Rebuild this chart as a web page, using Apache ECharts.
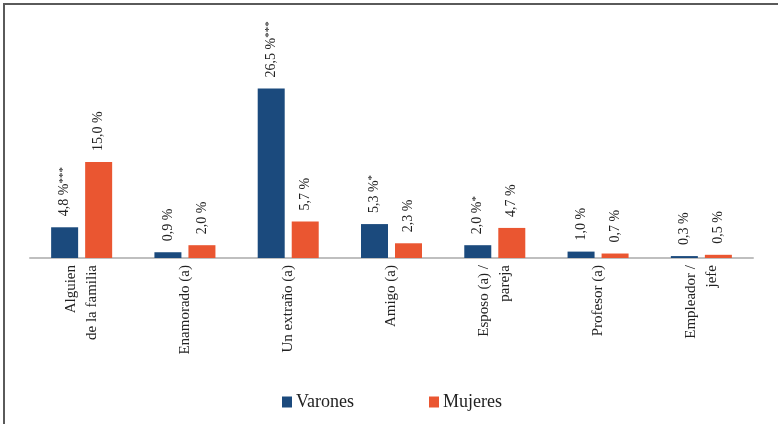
<!DOCTYPE html>
<html>
<head>
<meta charset="utf-8">
<script src="https://cdn.jsdelivr.net/npm/echarts@6/dist/echarts.min.js"></script>
<style>
html,body{margin:0;padding:0;background:#fff;font-family:'Liberation Serif',serif;}
#frame{position:absolute;left:3px;top:3px;width:775px;height:421px;border-top:2px solid #5a5a5a;border-left:2px solid #5a5a5a;box-sizing:border-box;}
#chart{position:absolute;left:0;top:0;width:778px;height:424px;}
</style>
</head>
<body>
<div id="frame"></div>
<div id="chart"></div>
<script>
var categories = ['Alguien\nde la familia', 'Enamorado (a)', 'Un extraño (a)', 'Amigo (a)', 'Esposo (a) /\npareja', 'Profesor (a)', 'Empleador /\njefe'];
var varones = [4.8, 0.9, 26.5, 5.3, 2.0, 1.0, 0.3];
var mujeres = [15.0, 2.0, 5.7, 2.3, 4.7, 0.7, 0.5];
var varonesSig = ['***', '', '***', '*', '*', '', ''];
var mujeresSig = ['', '', '', '', '', '', ''];

function fmt(v){ return v.toFixed(1).replace('.', ',') + ' %'; }

var font = 'Times New Roman, Liberation Serif, serif';

function labelFor(sig){
  return {
    show: true,
    position: 'top',
    rotate: 90,
    align: 'left',
    verticalAlign: 'middle',
    distance: 11,
    fontFamily: font,
    formatter: function(p){
      var s = sig[p.dataIndex];
      return '{v|' + fmt(p.value) + '}' + (s ? '{s|' + s + '}' : '');
    },
    rich: {
      v: {fontFamily: font, fontSize: 14, color: '#222'},
      s: {fontFamily: font, fontSize: 11, color: '#222', verticalAlign: 'top', padding:[0,0,4,0]}
    }
  };
}

var chart = echarts.init(document.getElementById('chart'));
chart.setOption({
  animation: false,
  textStyle: {fontFamily: font},
  grid: {left: 30, right: 25, top: 66, bottom: 166},
  legend: {
    left: 277, top: 388,
    itemWidth: 10, itemHeight: 11, itemGap: 75,
    icon: 'rect',
    textStyle: {fontFamily: font, fontSize: 18, color: '#222', padding:[0,0,0,-1]},
    data: ['Varones', 'Mujeres']
  },
  xAxis: {
    type: 'category',
    data: categories,
    axisLine: {lineStyle: {color: '#bfbfbf', width: 2}},
    axisTick: {show: false},
    axisLabel: {
      rotate: 90, margin: 7, interval: 0,
      fontFamily: font, fontSize: 15, color: '#222', lineHeight: 21,
      padding: [0, 0, 6, 0]
    }
  },
  yAxis: {
    type: 'value', min: 0, max: 30, show: false, splitLine: {show: false}
  },
  series: [
    {name: 'Varones', type: 'bar', data: varones, barWidth: 27, barGap: '26%',
     itemStyle: {color: '#1b4a7d'}, label: labelFor(varonesSig)},
    {name: 'Mujeres', type: 'bar', data: mujeres, barWidth: 27,
     itemStyle: {color: '#ea5631'}, label: labelFor(mujeresSig)}
  ]
});
</script>
</body>
</html>
